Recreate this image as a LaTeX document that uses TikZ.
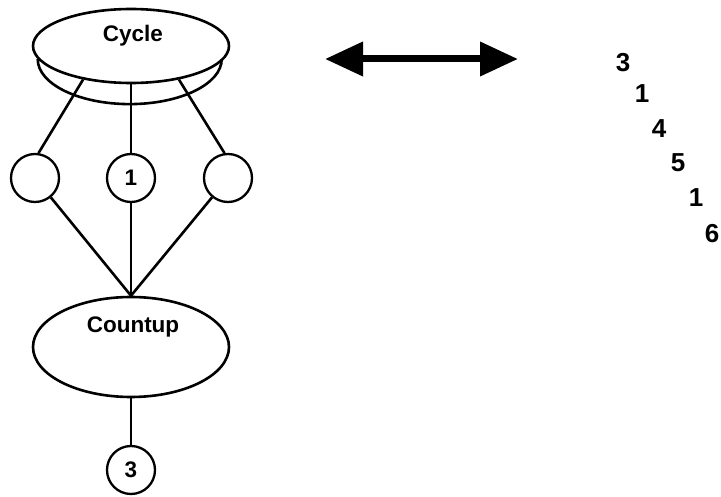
\documentclass[tikz,border=0pt]{standalone}
\usepackage{fontspec}
\setmainfont{Liberation Sans}
\usetikzlibrary{arrows.meta,positioning,shapes.geometric}

\begin{document}
\begin{tikzpicture}[x=1pt,y=-1pt,
  blob/.style={draw,line width=2.6pt,ellipse,inner sep=0pt,minimum width=196pt},
  ball/.style={draw,line width=2.3pt,circle,inner sep=0pt,minimum size=48pt},
  wire/.style={line width=2.6pt},
  lbl/.style={font=\fontsize{22.5}{22.5}\selectfont\bfseries},
  digit/.style={font=\fontsize{26}{26}\selectfont\bfseries,anchor=base}]
  \useasboundingbox (0,0) rectangle (721,497);
  % cycle disc with its lower rim
  \node[blob,minimum height=74pt] (cyc) at (131,46) {};
  \draw[wire] (cyc.188) arc[start angle=180,end angle=0,x radius=92,y radius=45];
  \node[lbl,anchor=base] (cyctxt) at (133,42) {Cycle};
  % slots
  \node[ball] (lc) at (35,178) {};
  \node[ball,lbl] (mc) at (131,178) {1};
  \node[ball] (rc) at (228,178) {};
  \draw[wire] (cyc.215) -- (lc.82);
  \draw[wire] (cyc.south) -- (mc.north);
  \draw[wire] (cyc.325) -- (rc.98);
  % countup
  \node[blob,minimum height=100pt] (cnt) at (131,347) {};
  \node[lbl,anchor=base] (cnttxt) at (133,333) {Countup};
  \foreach \s in {lc,mc,rc}
    \draw[wire] (\s) -- (cnt.north);
  \node[ball,lbl] (tc) at (131,470) {3};
  \draw[line width=2pt] (cnt.south) -- (tc.north);
  % double arrow
  \coordinate (al) at (325,59);
  \coordinate (ar) at (518,59);
  \draw[line width=7pt,{Triangle[length=38pt,width=33pt]}-{Triangle[length=38pt,width=33pt]}] (al) -- (ar);
  % digit sequence
  \node[digit] (d1) at (623,72) {3};
  \node[digit] (d2) at (642,103) {1};
  \node[digit] (d3) at (659,138) {4};
  \node[digit] (d4) at (678,172) {5};
  \node[digit] (d5) at (696,207) {1};
  \node[digit] (d6) at (712,243) {6};
\end{tikzpicture}
\end{document}
